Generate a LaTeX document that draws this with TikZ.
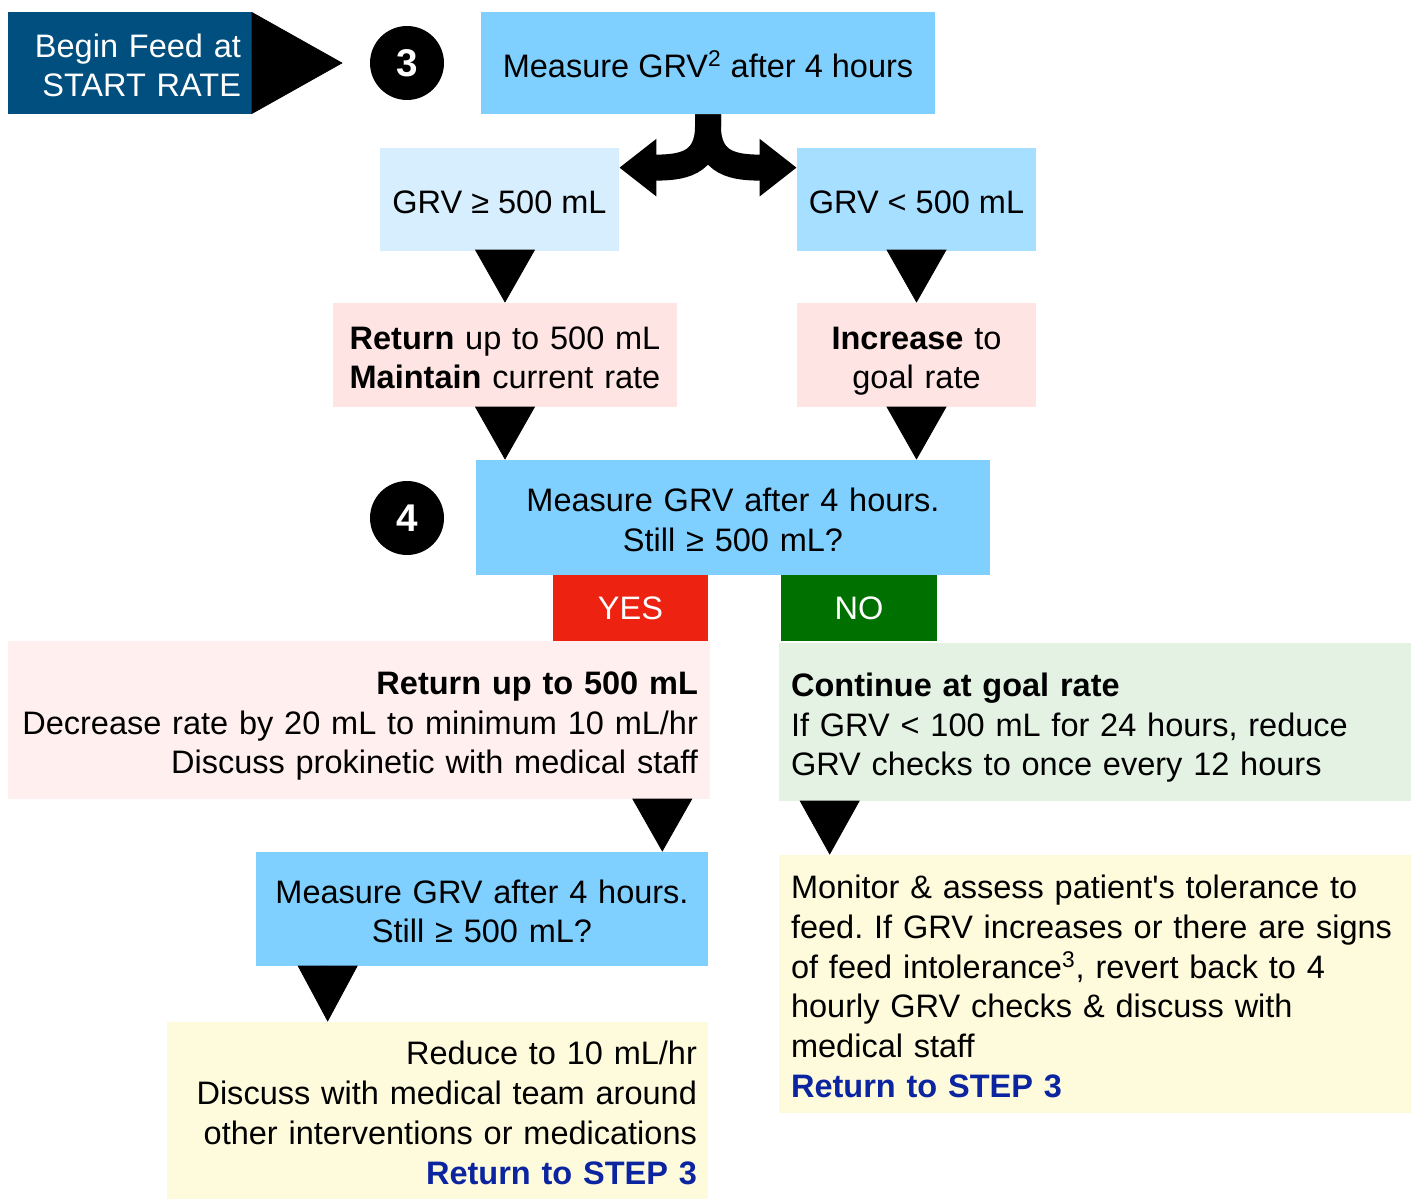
\documentclass[tikz,border=0pt]{standalone}
\usepackage{fontspec}
\setmainfont{Liberation Sans}
\usepackage{tikz}
\usetikzlibrary{positioning, arrows.meta}
\usepackage{xcolor}
\frenchspacing

\definecolor{startblue}{HTML}{004F7F}
\definecolor{stepblue}{HTML}{7FCFFF}
\definecolor{paleblue}{HTML}{D6EEFD}
\definecolor{midblue}{HTML}{A6DFFF}
\definecolor{rosebox}{HTML}{FFE4E4}
\definecolor{palerose}{HTML}{FFF0EF}
\definecolor{yesred}{HTML}{EE2211}
\definecolor{nogreen}{HTML}{007100}
\definecolor{palegreen}{HTML}{E4F2E4}
\definecolor{paleyellow}{HTML}{FEFADC}
\definecolor{linkblue}{HTML}{0B24A0}

\newcommand{\topstrut}{\rule{0pt}{21pt}}
\newcommand{\botstrut}{\rule[-5pt]{0pt}{5pt}}

\tikzset{
    box/.style={rectangle, inner sep=0pt, align=center,
                execute at begin node=\topstrut, execute at end node=\botstrut},
    answer/.style={rectangle, inner sep=0pt, text=white, minimum height=1.32cm},
    num/.style={circle, fill=black, text=white, minimum size=1.48cm, inner sep=0pt,
                font=\fontsize{22}{26}\selectfont\bfseries},
    tri/.style={-{Triangle[length=#1, width=1.2cm]}, line width=0.4pt},
    tri/.default=1.06cm,
    split/.style={line width=0.52cm, -{Triangle[length=0.74cm, width=1.1cm]}}
}

\begin{document}
\begin{tikzpicture}[x=0.02cm, y=-0.02cm, font=\fontsize{18.5}{22.7}\selectfont]
    \useasboundingbox (0,0) rectangle (1411,1199);

    % Step 3
    \node[box, fill=startblue, text=white, align=right, text width=4.44cm, inner xsep=0.22cm,
          minimum height=2.04cm] (begin) at (130,63) {Begin Feed at\\START RATE};
    \node[num] (c3) at (407,63) {3};
    \node[box, fill=stepblue, minimum width=9.08cm, minimum height=2.04cm] (m3) at (708,63)
        {Measure GRV\textsuperscript{2} after 4 hours};

    % First split
    \node[box, fill=paleblue, minimum width=4.78cm, minimum height=2.06cm] (grvhi) at (499.5,199.5)
        {GRV ≥ 500 mL};
    \node[box, fill=midblue, minimum width=4.78cm, minimum height=2.06cm] (grvlo) at (916.5,199.5)
        {GRV < 500 mL};
    \node[box, fill=rosebox, text width=6.88cm, minimum height=2.08cm] (ret1) at (505,355)
        {\textbf{Return} up to 500 mL\\\textbf{Maintain} current rate};
    \node[box, fill=rosebox, text width=4.78cm, minimum height=2.08cm] (inc) at (916.5,355)
        {\textbf{Increase} to\\goal rate};

    % Step 4
    \node[num] (c4) at (407,518) {4};
    \node[box, fill=stepblue, text width=10.28cm, minimum height=2.3cm] (m4) at (733,517.5)
        {Measure GRV after 4 hours.\\Still ≥ 500 mL?};
    \node[answer, fill=yesred, minimum width=3.1cm] (yes) at (630.5,608) {YES};
    \node[answer, fill=nogreen, minimum width=3.12cm] (no) at (859,608) {NO};

    % Yes branch
    \node[box, fill=palerose, align=right, text width=13.56cm, inner xsep=0.24cm,
          minimum height=3.16cm] (yesact) at (359,720)
        {\textbf{Return up to 500 mL}\\Decrease rate by 20 mL to minimum 10 mL/hr\\Discuss prokinetic with medical staff};
    \node[box, fill=stepblue, text width=9.04cm, minimum height=2.28cm] (m5) at (482,909)
        {Measure GRV after 4 hours.\\Still ≥ 500 mL?};
    \node[box, fill=paleyellow, align=right, text width=10.38cm, inner xsep=0.22cm,
          minimum height=3.54cm] (reduce) at (437.5,1110.5)
        {Reduce to 10 mL/hr\\Discuss with medical team around\\other interventions or medications\\
         \textcolor{linkblue}{\textbf{Return to STEP 3}}};

    % No branch
    \node[box, fill=palegreen, align=left, text width=12.16cm, inner xsep=0.24cm,
          minimum height=3.16cm] (noact) at (1095,722)
        {\textbf{Continue at goal rate}\\If GRV < 100 mL for 24 hours, reduce\\GRV checks to once every 12 hours};
    \node[box, fill=paleyellow, align=left, text width=12.16cm, inner xsep=0.24cm,
          minimum height=5.16cm] (monitor) at (1095,984)
        {Monitor \& assess patient\textquotesingle s tolerance to\\feed. If GRV increases or there are signs\\
         of feed intolerance\textsuperscript{3}, revert back to 4\\hourly GRV checks \& discuss with\\medical staff\\
         \textcolor{linkblue}{\textbf{Return to STEP 3}}};

    % Arrows
    \draw[-{Triangle[length=1.82cm, width=2.04cm]}, shorten >=0.54cm] (begin) -- (c3);

    \coordinate (tipL) at ([yshift=-0.4cm]grvhi.north east);
    \coordinate (tipR) at ([yshift=-0.4cm]grvlo.north west);
    \draw[split] (m3.south) -- ++(0,12) .. controls +(0,38) and +(62,0) .. (tipL);
    \draw[split] (m3.south) -- ++(0,12) .. controls +(0,38) and +(-62,0) .. (tipR);

    \draw[tri] (ret1.north |- grvhi.south) -- (ret1.north);
    \draw[tri] (grvlo.south) -- (inc.north);
    \draw[tri] (ret1.south) -- (ret1.south |- m4.north);
    \draw[tri] (inc.south) -- (inc.south |- m4.north);
    \draw[tri] ([xshift=-0.96cm]yesact.south east) -- ([xshift=-0.92cm]m5.north east);
    \draw[tri=1.08cm] ([xshift=1.02cm]noact.south west) -- ([xshift=1.02cm]monitor.north west);
    \draw[tri=1.12cm] ([xshift=1.44cm]m5.south west) -- ([xshift=3.22cm]reduce.north west);

\end{tikzpicture}
\end{document}
